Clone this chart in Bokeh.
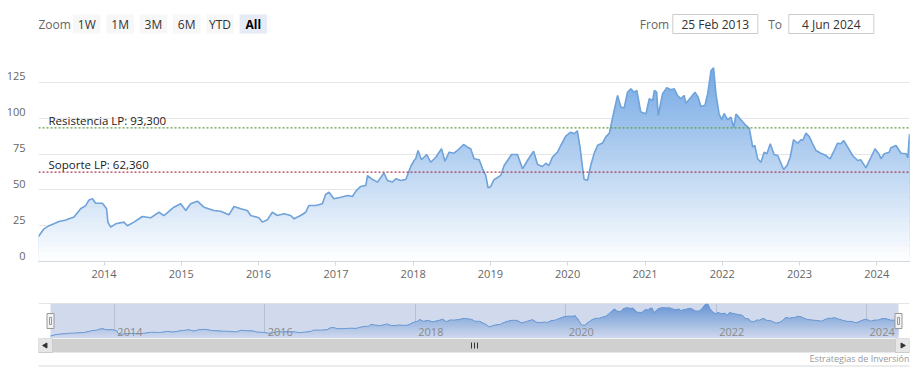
import numpy as np
import pandas as pd
from bokeh.plotting import figure
from bokeh.models import Range1d, LinearAxis, FixedTicker, Span, DatetimeTickFormatter
from bokeh.layouts import column
from bokeh.embed import file_html
from bokeh.resources import INLINE
from bokeh.core.properties import value

# ---------------- data ----------------
dates = [
    "2013-02-25", "2013-03-23", "2013-04-16", "2013-05-09", "2013-06-02", "2013-07-04", "2013-08-12",
    "2013-09-12", "2013-10-06", "2013-10-22", "2013-11-07", "2013-11-22", "2013-12-24",
    "2014-01-13", "2014-01-19", "2014-02-01", "2014-02-25", "2014-04-05", "2014-04-21", "2014-05-22",
    "2014-07-01", "2014-08-09", "2014-09-17", "2014-10-11", "2014-11-27", "2014-12-29",
    "2015-01-22", "2015-02-14", "2015-03-18", "2015-04-18", "2015-06-04", "2015-07-06", "2015-08-14",
    "2015-09-07", "2015-10-09", "2015-11-09", "2015-11-25",
    "2016-01-03", "2016-01-19", "2016-02-12", "2016-03-06", "2016-03-30", "2016-04-30", "2016-06-01",
    "2016-06-17", "2016-07-18", "2016-08-11", "2016-08-26", "2016-09-27", "2016-10-29", "2016-11-13",
    "2016-11-29", "2016-12-22",
    "2017-01-24", "2017-02-25", "2017-03-20", "2017-04-05", "2017-04-28", "2017-05-22", "2017-05-30",
    "2017-06-23", "2017-07-16", "2017-08-16", "2017-09-01", "2017-09-25", "2017-10-11", "2017-11-03",
    "2017-11-27", "2017-12-21",
    "2018-01-05", "2018-01-13", "2018-01-24", "2018-02-09", "2018-03-06", "2018-03-25", "2018-04-18",
    "2018-05-15", "2018-05-31", "2018-06-20", "2018-07-13", "2018-07-29", "2018-08-27", "2018-09-15",
    "2018-09-30", "2018-10-16", "2018-11-09", "2018-11-25", "2018-12-10", "2018-12-21",
    "2019-01-03", "2019-01-18", "2019-02-19", "2019-03-07", "2019-03-23", "2019-04-11", "2019-05-09",
    "2019-06-02", "2019-06-25", "2019-07-24", "2019-08-12", "2019-09-04", "2019-09-20", "2019-10-05",
    "2019-10-21", "2019-11-14", "2019-11-30", "2019-12-23",
    "2020-01-16", "2020-02-01", "2020-02-16", "2020-02-29", "2020-03-11", "2020-03-19", "2020-04-04",
    "2020-04-20", "2020-05-06", "2020-05-22", "2020-06-14", "2020-06-30", "2020-07-16", "2020-08-01",
    "2020-08-24", "2020-09-09", "2020-09-24", "2020-10-10", "2020-10-26", "2020-11-10", "2020-11-23",
    "2020-12-12",
    "2021-01-05", "2021-01-21", "2021-02-06", "2021-02-14", "2021-02-25", "2021-03-04", "2021-03-25",
    "2021-04-14", "2021-05-03", "2021-05-19", "2021-06-04", "2021-06-19", "2021-07-05", "2021-07-13",
    "2021-08-06", "2021-08-25", "2021-09-09", "2021-09-22", "2021-10-11", "2021-10-24", "2021-11-09",
    "2021-11-21", "2021-12-02", "2021-12-17", "2021-12-29",
    "2022-01-10", "2022-01-26", "2022-02-11", "2022-02-24", "2022-03-07", "2022-03-30", "2022-04-23",
    "2022-05-09", "2022-05-25", "2022-06-04", "2022-06-17", "2022-07-03", "2022-07-18", "2022-07-31",
    "2022-08-16", "2022-09-03", "2022-09-20", "2022-10-18", "2022-11-03", "2022-11-18", "2022-12-04",
    "2022-12-23",
    "2023-01-08", "2023-01-16", "2023-02-01", "2023-02-16", "2023-03-04", "2023-03-20", "2023-04-12",
    "2023-05-06", "2023-05-26", "2023-06-14", "2023-06-30", "2023-07-16", "2023-07-29", "2023-08-17",
    "2023-09-09", "2023-10-03", "2023-10-18", "2023-11-11", "2023-12-05", "2023-12-24",
    "2024-01-13", "2024-01-21", "2024-02-06", "2024-02-29", "2024-03-08", "2024-04-01", "2024-04-25",
    "2024-05-19", "2024-05-27", "2024-06-04",
]
prices = [
    17.5, 22.8, 25, 26.3, 27.9, 29, 31, 36.8, 39, 43, 43.8, 40.7, 40.7,
    36.8, 27.5, 24, 26.3, 27.5, 25, 27.5, 31.4, 30.5, 34.4, 32, 37.9, 40.3,
    35.6, 40.3, 42.1, 37.9, 35.6, 35.1, 32.6, 38.4, 36.8, 35.6, 32.1,
    30.5, 27.5, 29.1, 34.4, 32.1, 33.3, 32.1, 29.8, 32.1, 34.4, 39.1, 39.1, 40.3, 46.8, 48.4, 43.8,
    44.9, 46.1, 45.4, 49.1, 52.4, 53.1, 60, 57.2, 55.4, 61.8, 56.6, 55.5, 57.8, 56.5, 57.3, 66.5,
    70.5, 71.7, 77.5, 71, 74.7, 69.3, 72.8, 78.7, 70, 76.3, 75.6, 77.5, 81.7, 79.8, 78.7, 71.7, 71,
    64.7, 60.1, 51.5,
    52.4, 57.1, 60.1, 67, 70.5, 74.7, 74.7, 64.7, 70.5, 77, 67.7, 66.3, 68.6, 67, 72.8, 76.3, 81, 87.6,
    90.3, 89.2, 91.2, 79.5, 66, 57.4, 56.6, 67.5, 75.6, 81.2, 82.8, 87, 89.5, 100.8, 115.9, 107.8,
    107.1, 118.2, 120.6, 118.2, 119.4, 104.3,
    103.1, 113.6, 112.4, 119.4, 118.2, 102, 117.1, 121.3, 119.9, 120.6, 115.9, 113.6, 115.9, 110.5,
    114.7, 118.2, 114.7, 108.2, 108.9, 117.1, 133.4, 135.3, 117.1, 103, 99,
    103.3, 99, 100.8, 93.6, 102.9, 99, 95, 93, 79.8, 81, 71.7, 69.3, 76.3, 75.2, 82.2, 74.7, 74, 64.2,
    67, 72.8, 85, 82.6,
    85, 84.5, 89.6, 87.3, 82.2, 77.5, 75.6, 74, 71.7, 77.5, 82.6, 82.2, 84.5, 79.8, 74, 70.5, 71, 65.4,
    72.8, 78.7,
    74.7, 71.7, 75.2, 76.3, 79.4, 81, 75.6, 75.2, 72.4, 89.2,
]
axis_years = [2014, 2015, 2016, 2017, 2018, 2019, 2020, 2021, 2022, 2023, 2024]
nav_years = [2014, 2016, 2018, 2020, 2022, 2024]
y_ticks = [0, 25, 50, 75, 100, 125]
level_values = [93.3, 62.36]
level_labels = ["Resistencia LP: 93,300", "Soporte LP: 62,360"]
level_colors = ["#5e9c40", "#a8384f"]
zoom_buttons = ["1W", "1M", "3M", "6M", "YTD", "All"]
date_from = "25 Feb 2013"
date_to = "4 Jun 2024"
credit = "Estrategias de Inversión"

# ---------------- helpers ----------------
FONT = value("Open Sans")
W = 917
BL, BR = 38, 8            # shared left / right borders -> frames span x 38..909
FX0, FX1 = BL, W - BR
xs = pd.to_datetime(dates)
vals = np.array(prices, dtype=float)
x0 = xs[0].to_pydatetime()
x1 = xs[-1].to_pydatetime()
vmax = vals.max()
vmin = vals.min()


def year_ms(y):
    return pd.Timestamp(f"{y}-01-01").value / 1e6


def hexmix(rgb, t):
    c = [int(round(255 + (k - 255) * t)) for k in rgb]
    return "#%02x%02x%02x" % tuple(c)


def gradient_area(fig, xv, yv, lo, hi, top_rgb, n=36):
    for i in range(n, 0, -1):
        cap = lo + (hi - lo) * i / n
        t = (i - 0.5) / n
        fig.varea(x=xv, y1=lo, y2=np.minimum(yv, cap), fill_color=hexmix(top_rgb, t))


def clean(fig):
    fig.outline_line_color = None
    fig.background_fill_color = "white"
    fig.border_fill_color = "white"


def year_formatter():
    f = "%Y"
    return DatetimeTickFormatter(microseconds=f, milliseconds=f, seconds=f, minsec=f, minutes=f,
                                 hourmin=f, hours=f, days=f, months=f, years=f)


def pixel_fig(height, top_y):
    f = figure(width=W, height=height, x_range=Range1d(FX0, FX1),
               y_range=Range1d(top_y + height, top_y),
               x_axis_location=None, y_axis_location=None,
               min_border_left=BL, min_border_right=BR, min_border_top=0, min_border_bottom=0,
               toolbar_location=None, output_backend="svg")
    clean(f)
    f.xgrid.visible = False
    f.ygrid.visible = False
    return f


# ---------------- top bar (range selector / inputs) ----------------
top = pixel_fig(44, 0)
btn_x = [86.3 + 33.3 * i for i in range(len(zoom_buttons))]
btn_fill = ["#f7f7f7"] * (len(zoom_buttons) - 1) + ["#e6ebf5"]
top.rect(x=btn_x, y=23.6, width=27.5, height=19, fill_color=btn_fill, line_color=None)
top.text(x=btn_x[:-1], y=23.8, text=zoom_buttons[:-1], text_align="center", text_baseline="middle",
         text_font=FONT, text_font_size="12px", text_color="#333333")
top.text(x=btn_x[-1:], y=23.8, text=zoom_buttons[-1:], text_align="center", text_baseline="middle",
         text_font=FONT, text_font_size="12px", text_color="#000000", text_font_style="bold")
top.text(x=[38, 639.3, 767.7], y=23.8, text=["Zoom", "From", "To"], text_align="left",
         text_baseline="middle", text_font=FONT, text_font_size="12px", text_color="#666666")
top.quad(left=[672.3, 788.3], right=[757.3, 873.3], top=[14, 14], bottom=[33, 33],
         fill_color="white", line_color="#cccccc", line_width=1)
top.text(x=[714.8, 830.8], y=23.8, text=[date_from, date_to], text_align="center",
         text_baseline="middle", text_font=FONT, text_font_size="12px", text_color="#333333")

# ---------------- main chart ----------------
FRAME_H = 217
y_hi = 151.5
p = figure(width=W, height=251, x_axis_type="datetime",
           x_range=Range1d(x0, x1), y_range=Range1d(0, y_hi),
           y_axis_location=None, min_border_left=BL, min_border_right=BR,
           min_border_top=0, min_border_bottom=34,
           toolbar_location=None, output_backend="svg")
clean(p)
p.xgrid.visible = False
p.ygrid.ticker = FixedTicker(ticks=y_ticks + [y_hi])
p.ygrid.grid_line_color = "#e6e6e6"

gradient_area(p, xs, vals, 0, vmax, (116, 168, 228), n=40)
p.line(xs, vals, line_color="#6fa3da", line_width=1.6)

for lv, lc in zip(level_values, level_colors):
    p.add_layout(Span(location=lv, dimension="width", line_color=lc, line_dash="2 2", line_width=1.2))
p.text(x=[x0, x0], y=level_values, text=level_labels, x_offset=10, text_baseline="bottom",
       text_font=FONT, text_font_size="11.5px", text_color="#1a1a1a")

# y labels: Highcharts style, sitting a few px above their grid lines
off = 6 * y_hi / FRAME_H
p.extra_y_ranges = {"labels": Range1d(0 - off, y_hi - off)}
yax = LinearAxis(y_range_name="labels", ticker=FixedTicker(ticks=y_ticks),
                 axis_line_color=None, major_tick_line_color=None, minor_tick_line_color=None,
                 major_tick_out=0, major_tick_in=0, major_label_standoff=13,
                 major_label_text_font="Open Sans", major_label_text_font_size="11px",
                 major_label_text_color="#666666")
p.add_layout(yax, "left")

xax = p.xaxis[0]
xax.ticker = FixedTicker(ticks=[year_ms(y) for y in axis_years])
xax.formatter = year_formatter()
xax.axis_line_color = "#d8d8d8"
xax.major_tick_line_color = "#d8d8d8"
xax.minor_tick_line_color = None
xax.major_tick_out = 4
xax.major_tick_in = 0
xax.major_label_standoff = 4
xax.major_label_text_font = "Open Sans"
xax.major_label_text_font_size = "11px"
xax.major_label_text_color = "#666666"

# ---------------- navigator ----------------
span_ms = (x1 - x0).total_seconds() * 1000.0
ms_per_px = span_ms / 848.0
pad_l = pd.Timedelta(milliseconds=12 * ms_per_px).to_pytimedelta()
pad_r = pd.Timedelta(milliseconds=11 * ms_per_px).to_pytimedelta()
ny0 = vmin - 0.075 * (vmax - vmin)
ny1 = vmax + 0.005 * (vmax - vmin)
nav = figure(width=W, height=43, x_axis_type="datetime",
             x_range=Range1d(x0 - pad_l, x1 + pad_r),
             y_range=Range1d(ny0, ny1),
             x_axis_location=None, y_axis_location=None,
             min_border_left=BL, min_border_right=BR, min_border_top=8, min_border_bottom=0,
             toolbar_location=None, output_backend="svg")
clean(nav)
nav.ygrid.visible = False
nav.xgrid.ticker = FixedTicker(ticks=[year_ms(y) for y in nav_years])
nav.xgrid.grid_line_color = "#dcdcdc"
gradient_area(nav, xs, vals, ny0, vmax, (100, 154, 218), n=24)
nav.line(xs, vals, line_color="#6fa3da", line_width=1)
nav.quad(left=[x0], right=[x1], bottom=[ny0], top=[ny1], fill_color="#6685c2",
         fill_alpha=0.3, line_color=None)
nav.add_layout(Span(location=ny1, dimension="width", line_color="#cccccc", line_width=1))
nav.text(x=[pd.Timestamp(f"{y}-01-01") for y in nav_years], y=ny0,
         text=[str(y) for y in nav_years], x_offset=3, y_offset=-3, text_baseline="bottom",
         text_font=FONT, text_font_size="11px", text_color="#8a8a8a")
hy = (ny0 + ny1) / 2
nav.rect(x=[x0, x1], y=hy, width=7, height=15, width_units="screen", height_units="screen",
         fill_color="#f2f2f2", line_color="#999999")
nav.rect(x=[x0, x1], y=hy, width=2, height=7, width_units="screen", height_units="screen",
         fill_color=None, line_color="#999999")

# ---------------- scrollbar + credits ----------------
bot = pixel_fig(45, 338)
bot.quad(left=[38], right=[909], top=[338], bottom=[352], fill_color="#d0d0d0", line_color=None)
bot.quad(left=[38, 895], right=[52, 909], top=[338, 338], bottom=[352, 352],
         fill_color="#e6e6e6", line_color="#cccccc")
bot.scatter(x=[45, 902], y=[345, 345], marker="triangle", size=5, angle=[np.pi / 2, -np.pi / 2],
            fill_color="#333333", line_color="#333333")
bot.segment(x0=[471, 474, 477], x1=[471, 474, 477], y0=[342] * 3, y1=[348] * 3,
            line_color="#333333", line_width=1)
bot.text(x=[909], y=[358], text=[credit], text_align="right", text_baseline="middle",
         text_font=FONT, text_font_size="9px", text_color="#999999")
bot.segment(x0=[38], x1=[909], y0=[365.5], y1=[365.5], line_color="#d9d9d9", line_width=1)

layout = column(top, p, nav, bot)
open("out.html", "w").write(file_html(layout, INLINE))
